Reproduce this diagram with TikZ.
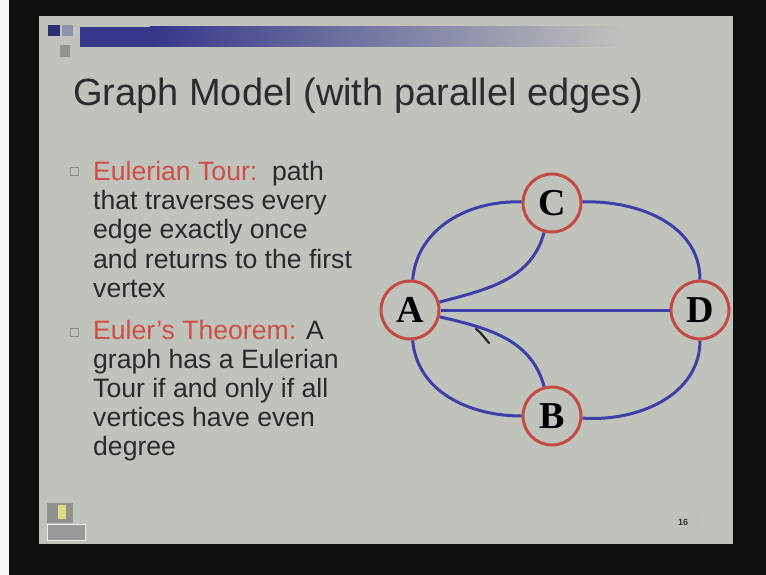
\documentclass[tikz,border=0pt]{standalone}
\usepackage{fontspec}
\setmainfont{Liberation Sans}
\newfontfamily\letterfont{Liberation Serif}
\definecolor{outerdark}{HTML}{0E120D}
\definecolor{slidebg}{HTML}{BFC3BC}
\definecolor{barblue}{HTML}{36368A}
\definecolor{titlegray}{HTML}{2C2C2C}
\definecolor{bodygray}{HTML}{2A2A2A}
\definecolor{termred}{HTML}{CF4E48}
\definecolor{edgeblue}{HTML}{3E40A8}
\definecolor{ringred}{HTML}{C64A44}
\tikzset{
  vertex/.style={circle, draw=ringred, line width=3pt, fill=slidebg,
    minimum size=58pt, inner sep=0pt,
    font=\letterfont\bfseries\fontsize{38}{38}\selectfont, text=black},
  edge/.style={draw=edgeblue, line width=3pt},
  bodyline/.style={anchor=base west, inner sep=0pt, text=bodygray,
    font=\fontsize{26.6}{29.3}\selectfont},
  bulletbox/.style={draw=gray!80!slidebg, line width=1pt, fill=slidebg,
    minimum size=8pt, inner sep=0pt},
}
\begin{document}
\begin{tikzpicture}[x=1pt,y=-1pt]
\useasboundingbox (0,0) rectangle (766,575);
% screen surround and slide
\fill[outerdark] (0,0) rectangle (766,575);
\fill[white!92!gray] (0,0) rectangle (9,575);
\fill[slidebg] (39,16) rectangle (733,544);

% title bar ornament
\fill[barblue] (80,27) rectangle (150,47);
\shade[left color=barblue, right color=slidebg] (149.5,27) rectangle (625,47);
\fill[barblue!85!black] (48,25) rectangle (60,36);
\fill[barblue!35!slidebg] (62,25) rectangle (73,36);
\fill[gray!70!slidebg] (60,45) rectangle (70,57);

% title
\node[anchor=base west, inner sep=0pt, text=titlegray,
      font=\fontsize{38}{38}\selectfont] (title) at (73,106)
  {Graph Model (with parallel edges)};

% bullet list
\node[bulletbox] (b1) at (74,172) {};
\node[bodyline] (l1) at (93,180) {\textcolor{termred}{Eulerian Tour:}\ \ path};
\node[bodyline] (l2) at (93,209) {that traverses every};
\node[bodyline] (l3) at (93,238) {edge exactly once};
\node[bodyline] (l4) at (93,268) {and returns to the first};
\node[bodyline] (l5) at (93,297) {vertex};
\node[bulletbox] (b2) at (74,332) {};
\node[bodyline] (l6) at (93,339) {\textcolor{termred}{Euler’s Theorem:} A};
\node[bodyline] (l7) at (93,368) {graph has a Eulerian};
\node[bodyline] (l8) at (93,397) {Tour if and only if all};
\node[bodyline] (l9) at (93,426) {vertices have even};
\node[bodyline] (l10) at (93,455) {degree};

% graph
\node[vertex] (A) at (410,310) {A};
\node[vertex] (C) at (552,203) {C};
\node[vertex] (D) at (700,310) {D};
\node[vertex] (B) at (552,416) {B};

\draw[edge] (A) to[out=85, in=178] (C);
\draw[edge] (A) to[out=15, in=-105] (C);
\draw[edge] (C) to[out=2, in=90] (D);
\draw[edge] (A) -- (D);
\draw[edge] (A) to[out=-13, in=105] (B);
\draw[edge] (A) to[out=-85, in=180] (B);
\draw[edge] (B) to[out=-4, in=-90] (D);

% pen mark
\draw[black!85, line width=2.2pt, line cap=round]
  (476,329) .. controls (479,331) .. (489,343);

% footer: logo and page number
\fill[gray!75!slidebg] (47,503) rectangle (73,523);
\fill[yellow!40!slidebg] (58,505) rectangle (66,519);
\draw[white!70!slidebg, line width=1pt, fill=gray!60!slidebg] (47,524) rectangle (85,540);
\draw[gray!25!slidebg, densely dotted] (683,520) circle (15pt);
\node[font=\bfseries\fontsize{9}{9}\selectfont, text=black!80, inner sep=0pt] (pg) at (683,522) {16};
\end{tikzpicture}
\end{document}
